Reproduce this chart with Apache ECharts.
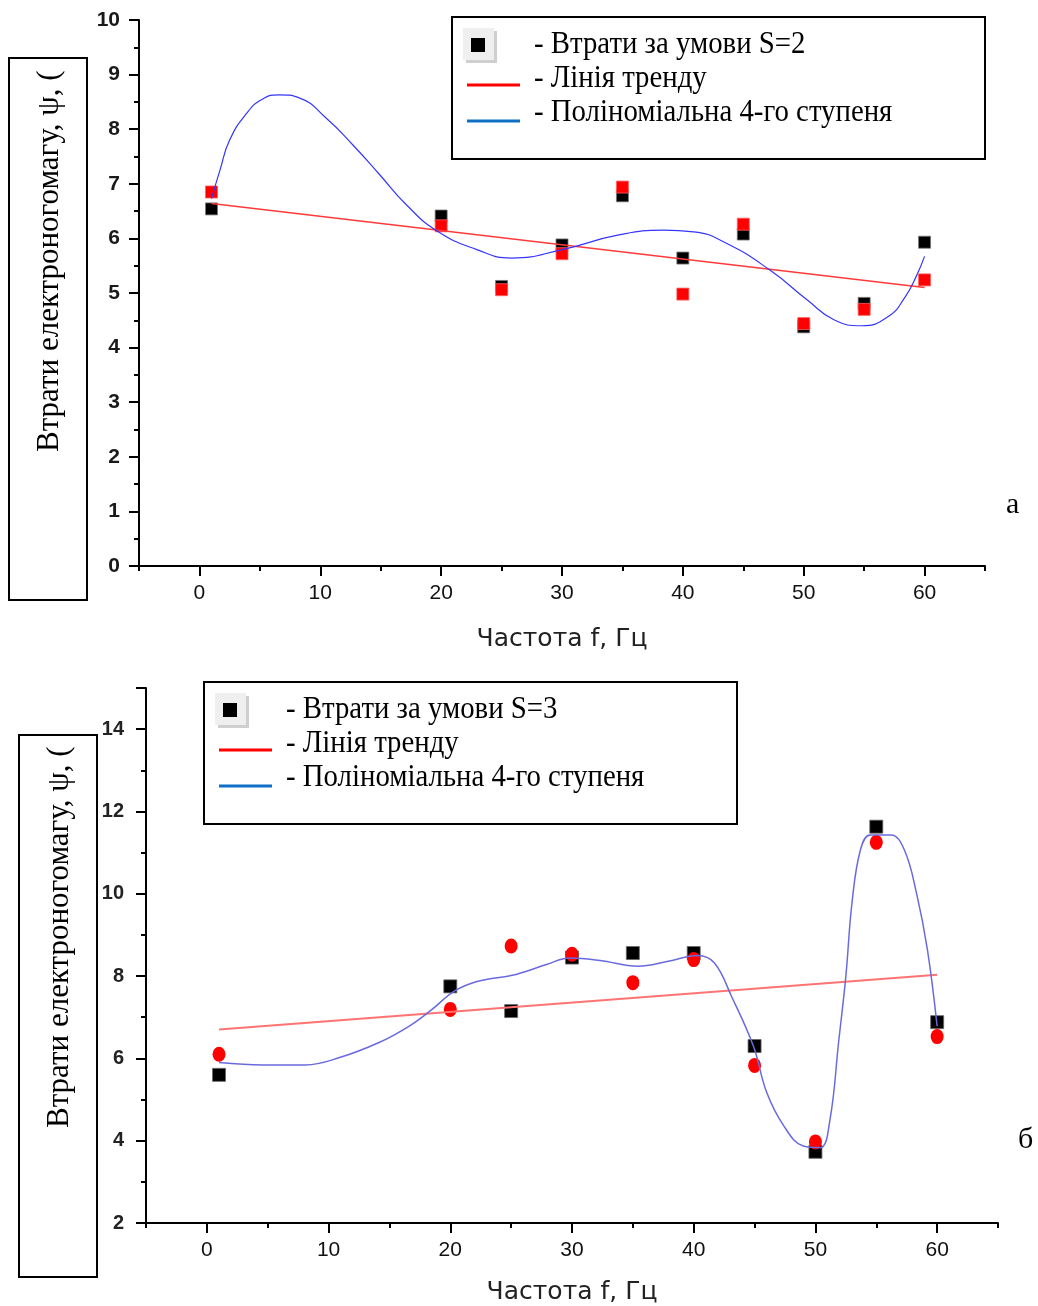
<!DOCTYPE html>
<html>
<head>
<meta charset="utf-8">
<script src="https://cdn.jsdelivr.net/npm/echarts@6/dist/echarts.min.js"></script>
<style>
  html, body { margin: 0; background: #fff; }
  #main { width: 1038px; height: 1306px; }
</style>
</head>
<body>
<div id="main"></div>
<script>
// частоти, Гц
const freq = [1, 20, 25, 30, 35, 40, 45, 50, 55, 60]
const xTickLabels = [0, 10, 20, 30, 40, 50, 60]

// графік а (S=2)
const s2Black = [6.54, 6.41, 5.12, 5.88, 6.78, 5.64, 6.08, 4.38, 4.81, 5.93]
const s2Red = [6.85, 6.23, 5.06, 5.72, 6.94, 4.98, 6.26, 4.44, 4.70, 5.24]
const s2TrendX = [1, 60]
const s2TrendY = [6.64, 5.10]
const s2PolyX = [1.0, 1.7, 2.5, 3.9, 5.2, 6.6, 8.3, 10.5, 12.7, 14.9, 17.1, 19.7, 22.9, 25.8, 30.1, 34.6, 38.4, 40.9, 43.6, 47.2, 50.3, 52.5, 54.8, 57.0, 58.4, 59.3, 60.0]
const s2PolyY = [6.73, 7.25, 7.80, 8.29, 8.55, 8.63, 8.57, 8.20, 7.71, 7.17, 6.62, 6.13, 5.80, 5.64, 5.80, 6.06, 6.15, 6.12, 5.91, 5.42, 4.87, 4.51, 4.40, 4.57, 4.93, 5.30, 5.67]

// графік б (S=3)
const s3Black = [5.60, 7.75, 7.15, 8.45, 8.56, 8.56, 6.30, 3.73, 11.63, 6.88]
const s3Red = [6.10, 7.19, 8.73, 8.53, 7.84, 8.40, 5.83, 3.97, 11.25, 6.53]
const s3TrendX = [1, 60]
const s3TrendY = [6.70, 8.03]
const s3PolyX = [1.0, 4.6, 8.1, 10.9, 14.1, 16.6, 18.5, 20.3, 22.2, 25.4, 27.9, 29.8, 32.3, 35.4, 37.9, 40.3, 41.7, 43.1, 44.9, 46.0, 47.4, 49.0, 50.4, 51.2, 51.9, 52.5, 53.0, 53.7, 54.5, 56.2, 57.3, 58.3, 59.2, 60.0]
const s3PolyY = [5.90, 5.84, 5.84, 6.02, 6.38, 6.78, 7.19, 7.63, 7.87, 8.04, 8.28, 8.44, 8.38, 8.24, 8.36, 8.50, 8.32, 7.51, 6.30, 5.17, 4.36, 3.87, 3.83, 4.52, 6.38, 8.00, 9.77, 11.07, 11.43, 11.43, 11.07, 10.02, 8.64, 6.78]

const legendS2 = ['- Втрати за умови S=2', '- Лінія тренду', '- Поліноміальна 4-го ступеня']
const legendS3 = ['- Втрати за умови S=3', '- Лінія тренду', '- Поліноміальна 4-го ступеня']
const yTitle = 'Втрати електроногомагу, ψ, ('
const xTitle = 'Частота f, Гц'

const pairs = (xs, ys) => xs.map((x, i) => [x, ys[i]])

function xAxes (grid) {
  return [
    {
      gridIndex: grid,
      type: 'value',
      position: 'bottom',
      min: -5,
      max: 65,
      interval: 5,
      name: xTitle,
      nameLocation: 'middle',
      nameGap: grid === 0 ? 61 : 57,
      nameTextStyle: { fontFamily: 'DejaVu Sans', fontSize: 25, color: '#222' },
      axisLine: { onZero: false, lineStyle: { color: '#000', width: 2 } },
      axisTick: { length: 10, lineStyle: { color: '#000', width: 2 }, customValues: xTickLabels },
      axisLabel: {
        customValues: xTickLabels,
        margin: 17,
        fontFamily: 'Liberation Sans Narrow, Liberation Sans',
        fontSize: 21,
        color: '#111',
        formatter: v => (v % 10 === 0 && v >= 0 && v <= 60) ? String(v) : ''
      },
      splitLine: { show: false }
    },
    {
      // короткі проміжні поділки
      gridIndex: grid,
      type: 'value',
      position: 'bottom',
      min: -5,
      max: 65,
      interval: 5,
      axisLine: { show: false, onZero: false },
      axisTick: { length: 5, lineStyle: { color: '#000', width: 2 } },
      axisLabel: { show: false },
      splitLine: { show: false }
    }
  ]
}

function legendGroup (x, y, labels) {
  const children = [
    { type: 'rect', shape: { x: 0, y: 0, width: 533, height: 142 }, style: { fill: '#fff', stroke: '#000', lineWidth: 2 } },
    { type: 'rect', shape: { x: 14, y: 14, width: 31, height: 32 }, style: { fill: '#cfcfcf' } },
    { type: 'rect', shape: { x: 11, y: 11, width: 31, height: 32 }, style: { fill: '#efefef' } },
    { type: 'rect', shape: { x: 19, y: 21, width: 14, height: 14 }, style: { fill: '#000' } },
    { type: 'line', shape: { x1: 15, y1: 68, x2: 68, y2: 68 }, style: { stroke: '#ff0000', lineWidth: 3 } },
    { type: 'line', shape: { x1: 15, y1: 104, x2: 68, y2: 104 }, style: { stroke: '#0f6fc6', lineWidth: 3 } }
  ]
  const rows = [28, 62, 96]
  labels.forEach((t, i) => {
    children.push({
      type: 'text',
      x: 82,
      y: rows[i],
      scaleX: 0.9,
      style: { text: t, font: '32px "Liberation Serif"', fill: '#000', textAlign: 'left', textVerticalAlign: 'middle' }
    })
  })
  return { type: 'group', x: x, y: y, children: children }
}

function yTitleBox (x, y, w, h, tx, ty) {
  return {
    type: 'group',
    children: [
      { type: 'rect', shape: { x: x, y: y, width: w, height: h }, style: { fill: 'none', stroke: '#000', lineWidth: 2 } },
      {
        type: 'text',
        x: tx,
        y: ty,
        rotation: Math.PI / 2,
        style: { text: yTitle, font: '31px "Liberation Serif"', fill: '#000', textAlign: 'left', textVerticalAlign: 'middle' }
      }
    ]
  }
}

const option = {
  animation: false,
  backgroundColor: '#fff',
  grid: [
    { left: 139, top: 20, width: 846, height: 546 },
    { left: 146, top: 688, width: 852, height: 536 }
  ],
  xAxis: [...xAxes(0), ...xAxes(1)],
  yAxis: [
    {
      gridIndex: 0,
      type: 'value',
      min: 0,
      max: 10,
      interval: 1,
      axisLine: { show: true, onZero: false, lineStyle: { color: '#000', width: 2 } },
      axisTick: { show: true, length: 10, lineStyle: { color: '#000', width: 2 } },
      minorTick: { show: true, splitNumber: 2, length: 5, lineStyle: { color: '#000', width: 2 } },
      axisLabel: { margin: 19, fontFamily: 'Liberation Sans', fontWeight: 'bold', fontSize: 21, color: '#1a1a1a' },
      splitLine: { show: false }
    },
    {
      gridIndex: 1,
      type: 'value',
      min: 2,
      max: 15,
      interval: 2,
      axisLine: { show: true, onZero: false, lineStyle: { color: '#000', width: 2 } },
      axisTick: { show: true, length: 10, lineStyle: { color: '#000', width: 2 } },
      minorTick: { show: true, splitNumber: 2, length: 5, lineStyle: { color: '#000', width: 2 } },
      axisLabel: { margin: 22, showMaxLabel: false, fontFamily: 'Liberation Sans', fontWeight: 'bold', fontSize: 20, color: '#222' },
      splitLine: { show: false }
    }
  ],
  series: [
    // а
    {
      type: 'scatter', xAxisIndex: 0, yAxisIndex: 0, symbol: 'rect', symbolSize: 12,
      itemStyle: { color: '#000', opacity: 1, borderColor: '#777', borderWidth: 0.8 },
      data: pairs(freq, s2Black)
    },
    {
      type: 'scatter', xAxisIndex: 0, yAxisIndex: 0, symbol: 'rect', symbolSize: 12,
      itemStyle: { color: '#ff0000', opacity: 1, borderColor: '#ff6060', borderWidth: 0.8 },
      data: pairs(freq, s2Red)
    },
    {
      type: 'line', xAxisIndex: 0, yAxisIndex: 0, showSymbol: false, symbol: 'none',
      lineStyle: { color: '#ff3a3a', width: 1.6 },
      data: pairs(s2TrendX, s2TrendY)
    },
    {
      type: 'line', xAxisIndex: 0, yAxisIndex: 0, showSymbol: false, symbol: 'none', smooth: 0.5,
      lineStyle: { color: '#3535ff', width: 1.2 },
      data: pairs(s2PolyX, s2PolyY)
    },
    // б
    {
      type: 'line', xAxisIndex: 2, yAxisIndex: 1, showSymbol: false, symbol: 'none',
      lineStyle: { color: '#ff7373', width: 2 },
      data: pairs(s3TrendX, s3TrendY)
    },
    {
      type: 'line', xAxisIndex: 2, yAxisIndex: 1, showSymbol: false, symbol: 'none', smooth: 0.4,
      lineStyle: { color: '#6a6ae0', width: 1.5 },
      data: pairs(s3PolyX, s3PolyY)
    },
    {
      type: 'scatter', xAxisIndex: 2, yAxisIndex: 1, symbol: 'rect', symbolSize: 13,
      itemStyle: { color: '#000', opacity: 1, borderColor: '#666', borderWidth: 0.8 },
      data: pairs(freq, s3Black)
    },
    {
      type: 'scatter', xAxisIndex: 2, yAxisIndex: 1, symbol: 'circle', symbolSize: [13, 15],
      itemStyle: { color: '#ff0000', opacity: 1 },
      data: pairs(freq, s3Red)
    }
  ],
  graphic: [
    legendGroup(452, 17, legendS2),
    legendGroup(204, 682, legendS3),
    yTitleBox(9, 58, 78, 542, 50, 452),
    yTitleBox(19, 735, 78, 542, 60, 1128),
    { type: 'text', x: 1006, y: 505, style: { text: 'а', font: '30px "Liberation Serif"', fill: '#000', textVerticalAlign: 'middle' } },
    { type: 'text', x: 1018, y: 1140, style: { text: 'б', font: '30px "Liberation Serif"', fill: '#000', textVerticalAlign: 'middle' } }
  ]
}

const myChart = echarts.init(document.getElementById('main'))
myChart.setOption(option)
</script>
</body>
</html>
